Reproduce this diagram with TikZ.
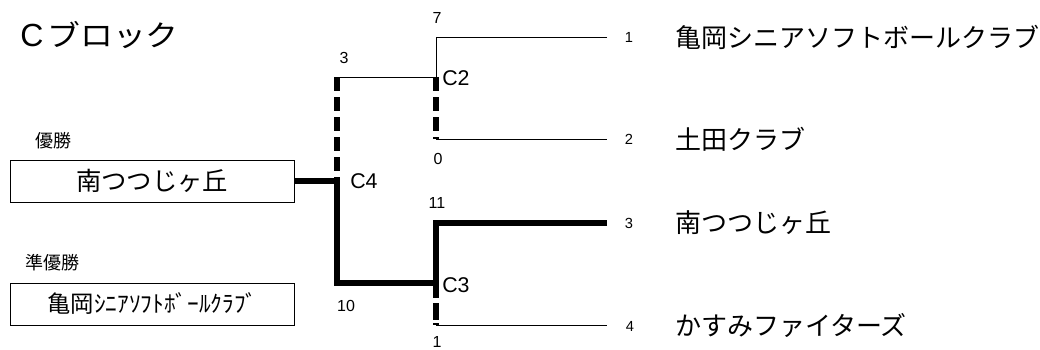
\documentclass[tikz,border=0pt]{standalone}
\usepackage{fontspec}
\setmainfont{Liberation Sans}
\newfontfamily\jp{Noto Sans CJK JP}
\begin{document}
\begin{tikzpicture}[x=0.75pt,y=-0.75pt,
  thinline/.style={line width=0.75pt},
  winline/.style={line width=4pt, line join=miter},
  lossline/.style={line width=4pt, dash pattern=on 10.5pt off 4.5pt},
  score/.style={inner sep=0pt, font=\fontsize{12}{13}\selectfont},
  seed/.style={inner sep=0pt, font=\fontsize{11}{12}\selectfont},
  game/.style={inner sep=0pt, anchor=west, font=\fontsize{16}{17}\selectfont},
  team/.style={inner sep=0pt, anchor=west, font=\jp\fontsize{19.5}{21}\selectfont},
  award/.style={inner sep=0pt, anchor=west, font=\jp\fontsize{13.5}{14}\selectfont},
  resultbox/.style={draw, line width=0.75pt, minimum width=213pt, minimum height=31.5pt, inner sep=0pt},
  headline/.style={inner sep=0pt, anchor=west, font=\fontsize{22}{24}\selectfont},
]
\useasboundingbox (0,0) rectangle (1040,350);
\fill[white] (0,0) rectangle (1040,350);

% title
\node[headline] (title) at (20,35) {{\fontsize{24}{26}\selectfont C}\hspace{3pt}\scalebox{1.12}[1]{\jp ブロック}};

% bracket points
\coordinate (e1) at (607,37);
\coordinate (e2) at (607,139);
\coordinate (e3) at (607,223);
\coordinate (e4) at (607,325);
\coordinate (c2a) at (436,37);
\coordinate (c2) at (436,77);
\coordinate (c2b) at (436,139);
\coordinate (c3a) at (436,223);
\coordinate (c3) at (436,283);
\coordinate (c3s) at (436,298);
\coordinate (c3b) at (436,325);
\coordinate (c4a) at (337,77);
\coordinate (c4) at (337,181);
\coordinate (c4b) at (337,283);

% result boxes
\node[award] (w1) at (35,141) {優勝};
\node[resultbox, font=\jp\fontsize{19}{20}\selectfont] (champ) at (152,181) {南つつじヶ丘};
\node[award] (w2) at (25,263) {準優勝};
\node[resultbox, font=\jp\fontsize{17.5}{20}\selectfont] (runner) at (152.5,304) {亀岡ｼﾆｱｿﾌﾄﾎﾞｰﾙｸﾗﾌﾞ};

% connectors
\draw[thinline] (e1) -- (c2a) -- (c2) -- (c4a);
\draw[lossline] (c2) -- (c2b);
\draw[thinline] (c2b) -- (e2);
\draw[lossline] (c4a) -- (c4);
\draw[winline] (champ.east) -- (c4) -- (c4b) -- (c3);
\draw[winline] (e3) -- (c3a) -- (c3) -- (c3s);
\draw[line width=4pt, dash pattern=on 0pt off 3.75pt on 12.75pt off 2.25pt on 3pt] (c3s) -- (c3b);
\draw[thinline] (c3b) -- (e4);

% scores
\node[score] (s7) at (437,18) {7};
\node[score] (s3) at (344,58) {3};
\node[score] (s0) at (438,159) {0};
\node[score] (s11) at (437,203) {11};
\node[score] (s10) at (346,306) {10};
\node[score] (s1) at (437,342) {1};

% game labels
\node[game] (g2) at (442,78) {C2};
\node[game] (g4) at (350,181) {C4};
\node[game] (g3) at (442,285) {C3};

% seeds
\node[seed] (n1) at (629,37) {1};
\node[seed] (n2) at (629,139) {2};
\node[seed] (n3) at (629,223) {3};
\node[seed] (n4) at (630,326) {4};

% teams
\node[team] (t1) at (675,37) {亀岡シニアソフトボールクラブ};
\node[team] (t2) at (675,139) {土田クラブ};
\node[team] (t3) at (675,223) {南つつじヶ丘};
\node[team] (t4) at (675,325) {かすみファイターズ};
\end{tikzpicture}
\end{document}
